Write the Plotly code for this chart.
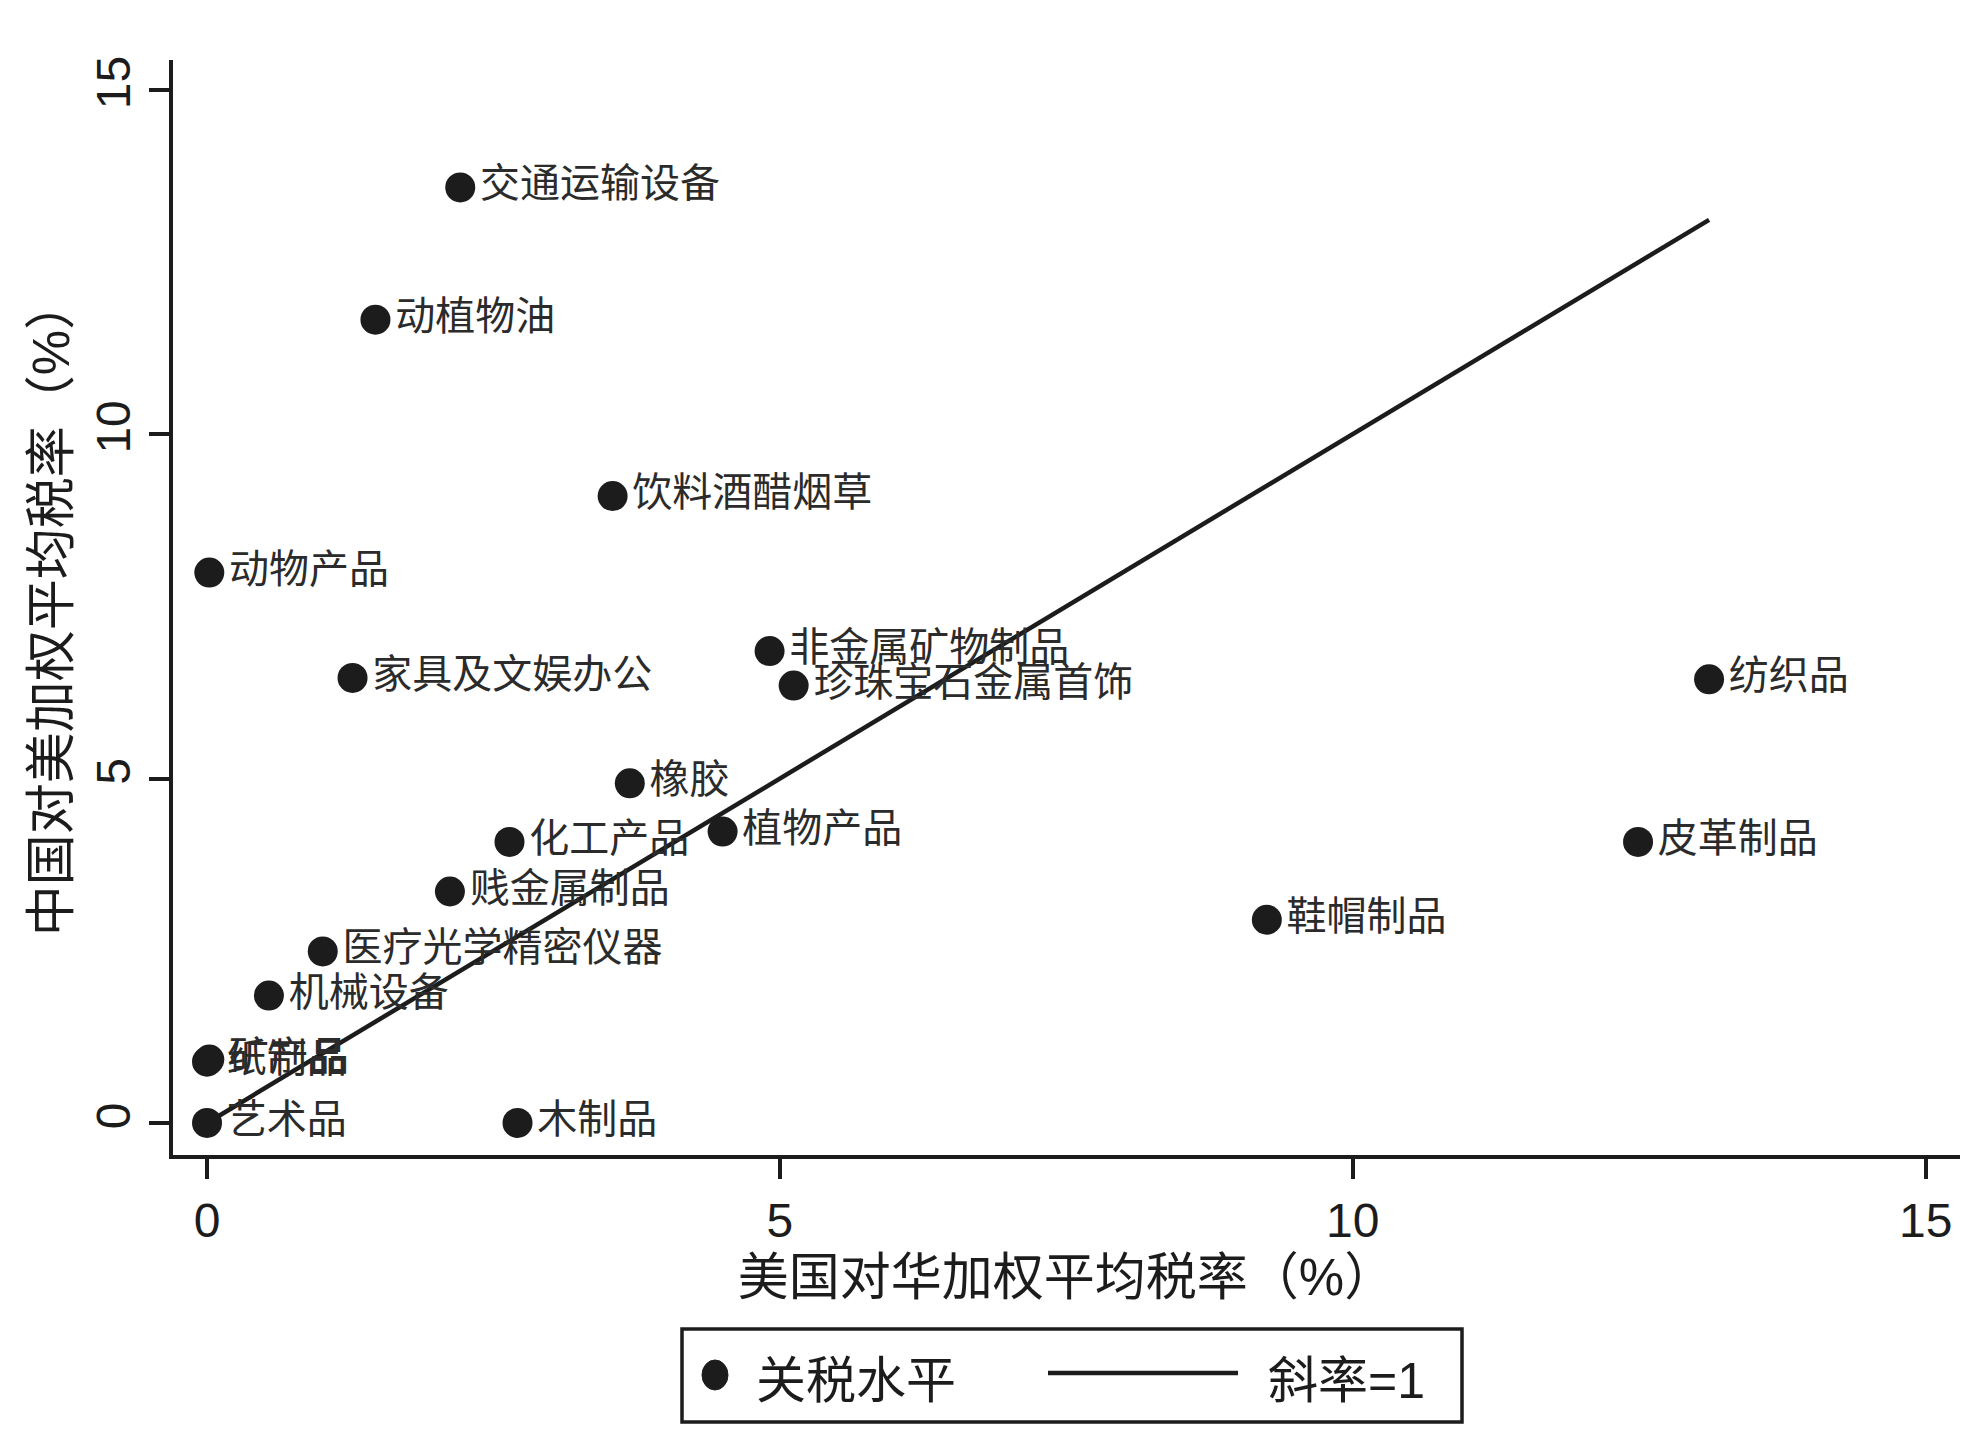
import plotly.graph_objects as go

# 行业分类及双边加权平均税率（%）
sectors = ["交通运输设备", "动植物油", "饮料酒醋烟草", "动物产品", "家具及文娱办公",
           "非金属矿物制品", "珍珠宝石金属首饰", "纺织品", "橡胶", "化工产品",
           "植物产品", "皮革制品", "贱金属制品", "鞋帽制品", "医疗光学精密仪器",
           "机械设备", "纸制品", "矿产品", "艺术品", "木制品"]
us_rate = [2.21, 1.47, 3.54, 0.02, 1.27, 4.91, 5.12, 13.11, 3.69, 2.64,
           4.50, 12.49, 2.12, 9.25, 1.01, 0.54, 0.00, 0.02, 0.00, 2.71]
cn_rate = [13.58, 11.66, 9.10, 7.99, 6.46, 6.85, 6.35, 6.44, 4.93, 4.08,
           4.23, 4.08, 3.36, 2.95, 2.49, 1.85, 0.89, 0.92, 0.00, 0.00]

tick_vals = [0, 5, 10, 15]
tick_text = ["0", "5", "10", "15"]

FONT = "Liberation Sans, Noto Sans CJK SC, Arial, sans-serif"
INK = "#1c1c1c"

# 绘图区在页面中的像素位置（用于手工图例）
L, R, T, B = 165, 1952, 52, 1147
PW, PH = R - L, B - T


def px(x):
    return (x - L) / PW


def py(y):
    return (B - y) / PH


# 45度线：斜率=1，覆盖美国税率的取值范围
line_x = [min(us_rate), max(us_rate)]
line_y = list(line_x)

fig = go.Figure()

fig.add_trace(go.Scatter(
    x=line_x, y=line_y,
    mode="lines",
    name="斜率=1",
    line=dict(color=INK, width=4.5),
    showlegend=False,
))

fig.add_trace(go.Scatter(
    x=us_rate, y=cn_rate,
    mode="markers+text",
    name="关税水平",
    text=sectors,
    textposition="middle right",
    textfont=dict(family=FONT, size=40, color="#2b2b2b"),
    marker=dict(size=30, color=INK),
    showlegend=False,
))

# 手工绘制的图例框
shapes = [
    dict(type="rect", xref="paper", yref="paper",
         x0=px(674), x1=px(1454), y0=py(1414), y1=py(1321),
         line=dict(color=INK, width=3.5), fillcolor="white"),
    dict(type="circle", xref="paper", yref="paper",
         x0=px(694), x1=px(720), y0=py(1382), y1=py(1352),
         line=dict(color=INK, width=1), fillcolor=INK),
    dict(type="line", xref="paper", yref="paper",
         x0=px(1040), x1=px(1230), y0=py(1365), y1=py(1365),
         line=dict(color=INK, width=4.5)),
]
annotations = [
    dict(text="关税水平", xref="paper", yref="paper",
         x=px(746), y=py(1373),
         xanchor="left", yanchor="middle", showarrow=False,
         font=dict(family=FONT, size=50, color=INK)),
    dict(text="斜率=1", xref="paper", yref="paper",
         x=px(1258), y=py(1373),
         xanchor="left", yanchor="middle", showarrow=False,
         font=dict(family=FONT, size=50, color=INK)),
]

fig.update_layout(
    width=1988, height=1432,
    margin=dict(l=L, r=1988 - R, t=T, b=1432 - B),
    paper_bgcolor="white",
    plot_bgcolor="white",
    font=dict(family=FONT, color=INK),
    showlegend=False,
    shapes=shapes,
    annotations=annotations,
)

fig.update_xaxes(
    range=[-0.297, 15.30],
    tickvals=tick_vals, ticktext=tick_text,
    ticks="outside", ticklen=20, tickwidth=3.5, tickcolor=INK,
    showline=True, linewidth=4, linecolor=INK,
    showgrid=False, zeroline=False,
    tickfont=dict(family=FONT, size=48, color=INK),
    title=dict(text="美国对华加权平均税率（%）",
               font=dict(family=FONT, size=51, color=INK), standoff=15),
    automargin=False,
)
fig.update_yaxes(
    range=[-0.465, 15.43],
    tickvals=tick_vals, ticktext=tick_text, tickangle=-90,
    ticks="outside", ticklen=20, tickwidth=3.5, tickcolor=INK,
    showline=True, linewidth=4, linecolor=INK,
    showgrid=False, zeroline=False,
    tickfont=dict(family=FONT, size=48, color=INK),
    title=dict(text="中国对美加权平均税率（%）",
               font=dict(family=FONT, size=51, color=INK), standoff=2),
    automargin=False,
)

fig.write_html("out.html")
